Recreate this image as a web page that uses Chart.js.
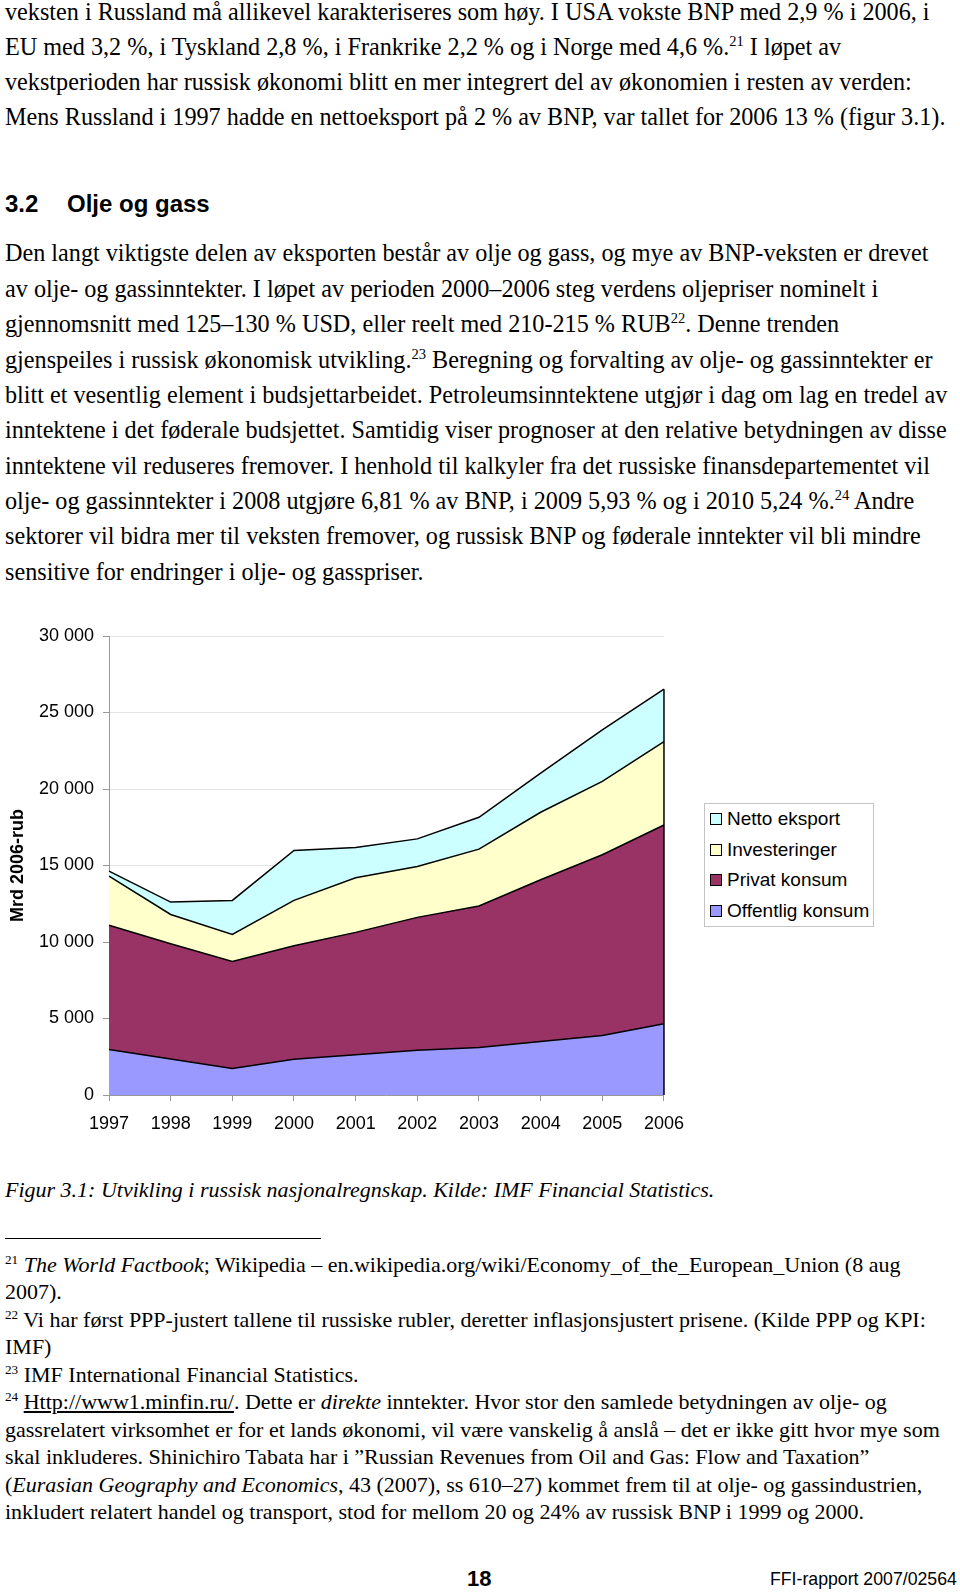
<!DOCTYPE html>
<html>
<head>
<meta charset="utf-8">
<script src="https://cdn.jsdelivr.net/npm/chart.js@4"></script>
<style>
  body { margin: 0; background: #fff; width: 960px; height: 1594px; position: relative; overflow: hidden; }
  .l { position: absolute; left: 5px; white-space: nowrap; font: 24.2px "Liberation Serif", serif; line-height: 24px; color: #000; }
  .f { position: absolute; left: 5px; white-space: nowrap; font: 22px "Liberation Serif", serif; line-height: 22px; color: #000; }
  sup { font-size: 0.6em; vertical-align: 0; position: relative; top: -0.6em; }
  .h { position: absolute; left: 5px; top: 190px; font: bold 24px "Liberation Sans", sans-serif; white-space: nowrap; }
  #chartBox { position: absolute; left: 0; top: 610px; }
  #legend { position: absolute; left: 704px; top: 803px; width: 168px; height: 122px; border: 1px solid #c4c4c4; font: 19px "Liberation Sans", sans-serif; }
  #legend div { position: absolute; left: 5px; white-space: nowrap; line-height: 20px; }
  #legend span { display: inline-block; width: 10px; height: 10px; border: 1px solid #000; margin-right: 5px; vertical-align: 0px; }
</style>
</head>
<body>
<div class="l" style="top:0px">veksten i Russland må allikevel karakteriseres som høy. I USA vokste BNP med 2,9 % i 2006, i</div>
<div class="l" style="top:35px">EU med 3,2 %, i Tyskland 2,8 %, i Frankrike 2,2 % og i Norge med 4,6 %.<sup>21</sup> I løpet av</div>
<div class="l" style="top:70px">vekstperioden har russisk økonomi blitt en mer integrert del av økonomien i resten av verden:</div>
<div class="l" style="top:105px">Mens Russland i 1997 hadde en nettoeksport på 2 % av BNP, var tallet for 2006 13 % (figur 3.1).</div>

<div class="h">3.2<span style="position:absolute;left:62px">Olje og gass</span></div>

<div class="l" style="top:241px">Den langt viktigste delen av eksporten består av olje og gass, og mye av BNP-veksten er drevet</div>
<div class="l" style="top:277px">av olje- og gassinntekter. I løpet av perioden 2000–2006 steg verdens oljepriser nominelt i</div>
<div class="l" style="top:312px">gjennomsnitt med 125–130 % USD, eller reelt med 210-215 % RUB<sup>22</sup>. Denne trenden</div>
<div class="l" style="top:348px">gjenspeiles i russisk økonomisk utvikling.<sup>23</sup> Beregning og forvalting av olje- og gassinntekter er</div>
<div class="l" style="top:383px">blitt et vesentlig element i budsjettarbeidet. Petroleumsinntektene utgjør i dag om lag en tredel av</div>
<div class="l" style="top:418px">inntektene i det føderale budsjettet. Samtidig viser prognoser at den relative betydningen av disse</div>
<div class="l" style="top:454px">inntektene vil reduseres fremover. I henhold til kalkyler fra det russiske finansdepartementet vil</div>
<div class="l" style="top:489px">olje- og gassinntekter i 2008 utgjøre 6,81 % av BNP, i 2009 5,93 % og i 2010 5,24 %.<sup>24</sup> Andre</div>
<div class="l" style="top:524px">sektorer vil bidra mer til veksten fremover, og russisk BNP og føderale inntekter vil bli mindre</div>
<div class="l" style="top:560px">sensitive for endringer i olje- og gasspriser.</div>

<div id="chartBox"><canvas id="chart" width="696" height="520"></canvas></div>
<div id="legend"></div>

<div class="l" style="top:1178px;font-style:italic;font-size:22px">Figur 3.1: Utvikling i russisk nasjonalregnskap. Kilde: IMF Financial Statistics.</div>
<div style="position:absolute;left:5px;top:1238px;width:316px;height:1px;background:#000"></div>

<div class="f" style="top:1254px"><sup>21</sup> <i>The World Factbook</i>; Wikipedia – en.wikipedia.org/wiki/Economy_of_the_European_Union (8 aug</div>
<div class="f" style="top:1281px">2007).</div>
<div class="f" style="top:1309px"><sup>22</sup> Vi har først PPP-justert tallene til russiske rubler, deretter inflasjonsjustert prisene. (Kilde PPP og KPI:</div>
<div class="f" style="top:1336px">IMF)</div>
<div class="f" style="top:1364px"><sup>23</sup> IMF International Financial Statistics.</div>
<div class="f" style="top:1391px"><sup>24</sup> <u>Http://www1.minfin.ru/</u>. Dette er <i>direkte</i> inntekter. Hvor stor den samlede betydningen av olje- og</div>
<div class="f" style="top:1419px">gassrelatert virksomhet er for et lands økonomi, vil være vanskelig å anslå – det er ikke gitt hvor mye som</div>
<div class="f" style="top:1446px">skal inkluderes. Shinichiro Tabata har i ”Russian Revenues from Oil and Gas: Flow and Taxation”</div>
<div class="f" style="top:1474px">(<i>Eurasian Geography and Economics</i>, 43 (2007), ss 610–27) kommet frem til at olje- og gassindustrien,</div>
<div class="f" style="top:1501px">inkludert relatert handel og transport, stod for mellom 20 og 24% av russisk BNP i 1999 og 2000.</div>

<div style="position:absolute;left:467px;top:1566px;font:bold 22px 'Liberation Sans',sans-serif">18</div>
<div style="position:absolute;left:770px;top:1569px;font:17.7px 'Liberation Sans',sans-serif;white-space:nowrap">FFI-rapport 2007/02564</div>

<script>
// chart data (Mrd 2006-rub)
const years = ['1997', '1998', '1999', '2000', '2001', '2002', '2003', '2004', '2005', '2006'];
const offentligKonsum = [2980, 2350, 1740, 2330, 2630, 2930, 3110, 3500, 3890, 4650];
const privatKonsum = [8110, 7540, 6980, 7430, 8000, 8680, 9240, 10570, 11810, 13000];
const investeringer = [3210, 1910, 1780, 2960, 3570, 3320, 3720, 4410, 4800, 5440];
const nettoEksport = [330, 810, 2220, 3260, 1970, 1810, 2080, 2560, 3370, 3430];
const yTicks = [0, 5000, 10000, 15000, 20000, 25000, 30000];

const seriesNames = ['Offentlig konsum', 'Privat konsum', 'Investeringer', 'Netto eksport'];
const seriesData = [offentligKonsum, privatKonsum, investeringer, nettoEksport];
const seriesColors = ['#9999ff', '#993366', '#ffffcc', '#ccffff'];

const fmt = v => v.toString().replace(/\B(?=(\d{3})+(?!\d))/g, ' ');

// closing edge of the areas at the last year, like the original
const edgePlugin = {
    id: 'edges',
    afterDatasetsDraw(chart) {
        const { ctx, scales: { x, y } } = chart;
        const last = years.length - 1;
        let topLast = 0;
        seriesData.forEach(s => { topLast += s[last]; });
        ctx.save();
        ctx.strokeStyle = '#000';
        ctx.lineWidth = 1.5;
        ctx.beginPath();
        ctx.moveTo(x.getPixelForValue(last), y.getPixelForValue(0));
        ctx.lineTo(x.getPixelForValue(last), y.getPixelForValue(topLast));
        ctx.stroke();
        ctx.restore();
    }
};

new Chart(document.getElementById('chart'), {
    type: 'line',
    data: {
        labels: years,
        datasets: seriesData.map((d, i) => ({
            label: seriesNames[i],
            data: d,
            backgroundColor: seriesColors[i],
            borderColor: '#000',
            borderWidth: 1.5,
            pointRadius: 0,
            tension: 0,
            fill: i === 0 ? 'origin' : '-1'
        }))
    },
    options: {
        responsive: false,
        animation: false,
        layout: { padding: { left: 0, right: 20, top: 26, bottom: 0 } },
        plugins: { legend: { display: false }, tooltip: { enabled: false } },
        scales: {
            x: {
                grid: { display: true, drawOnChartArea: false, tickLength: 6, tickColor: '#999' },
                border: { color: '#999', width: 1 },
                ticks: { color: '#000', padding: 12, maxRotation: 0, font: { family: 'Liberation Sans', size: 18 } },
                afterFit: s => { s.height = 35; }
            },
            y: {
                stacked: true,
                min: 0,
                max: 30000,
                afterBuildTicks: s => { s.ticks = yTicks.map(v => ({ value: v })); },
                grid: { color: '#e4e4e4', tickLength: 6, tickColor: '#999' },
                border: { color: '#999', width: 1 },
                ticks: { color: '#000', padding: 9, callback: v => fmt(v), font: { family: 'Liberation Sans', size: 18 } },
                title: { display: true, text: 'Mrd 2006-rub', color: '#000', padding: { top: 7, bottom: 0 }, font: { family: 'Liberation Sans', size: 18, weight: 'bold' } },
                afterFit: s => { s.width = 109; }
            }
        }
    },
    plugins: [edgePlugin]
});

// legend box, top entry is the top layer
const legend = document.getElementById('legend');
[3, 2, 1, 0].forEach((idx, row) => {
    const item = document.createElement('div');
    item.style.top = (5 + row * 30.7) + 'px';
    item.innerHTML = `<span style="background:${seriesColors[idx]}"></span>${seriesNames[idx]}`;
    legend.appendChild(item);
});
</script>
</body>
</html>
